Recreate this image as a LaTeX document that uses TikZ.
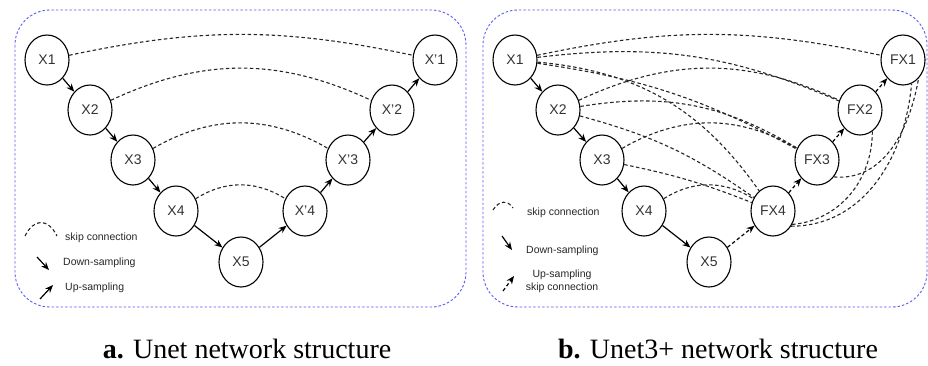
\documentclass[tikz,border=0pt]{standalone}
\usepackage{fontspec}
\setmainfont{Liberation Serif}
\setsansfont{Liberation Sans}
\usetikzlibrary{shapes.geometric,arrows.meta}

\definecolor{bordoblu}{RGB}{90,90,245}

\tikzset{
	blocco/.style={ellipse, draw, line width=1.1pt, minimum width=44pt, minimum height=50pt, inner sep=0pt, text=black!80, font=\sffamily\fontsize{14}{14}\selectfont},
	salto/.style={line width=1.1pt, black!85, dash pattern=on 3.5pt off 2.5pt},
	giu/.style={-{Stealth[length=8pt,width=6.5pt]}, line width=1.2pt},
	risalita/.style={-{Stealth[length=8pt,width=6.5pt]}, line width=1.2pt, dash pattern=on 3.5pt off 2.5pt},
	cornice/.style={draw=bordoblu, line width=0.9pt, dash pattern=on 2.5pt off 2pt, rounded corners=35pt},
	leggenda/.style={inner sep=0pt, text=black!85, font=\sffamily\fontsize{10.5}{13}\selectfont, align=center},
	didascalia/.style={inner sep=0pt, font=\fontsize{28}{30}\selectfont}
}

\begin{document}
\begin{tikzpicture}[x=1pt, y=-1pt]
	\useasboundingbox (0,0) rectangle (928,365);

	\begin{scope} % a. Unet
		\draw[cornice] (15,10) rectangle (466,307);

		\node[blocco] (a1) at (47,60) {X1};
		\node[blocco] (a2) at (90,110) {X2};
		\node[blocco] (a3) at (133,160) {X3};
		\node[blocco] (a4) at (176,211) {X4};
		\node[blocco] (a5) at (241,262) {X5};
		\node[blocco] (d4) at (305,211) {X'4};
		\node[blocco] (d3) at (348,160) {X'3};
		\node[blocco] (d2) at (392,110) {X'2};
		\node[blocco] (d1) at (435,60) {X'1};

		\draw[giu] (a1) -- (a2);
		\draw[giu] (a2) -- (a3);
		\draw[giu] (a3) -- (a4);
		\draw[giu] (a4) -- (a5);
		\draw[giu] (a5) -- (d4);
		\draw[giu] (d4) -- (d3);
		\draw[giu] (d3) -- (d2);
		\draw[giu] (d2) -- (d1);

		\draw[salto] (a1) to[bend left=12] (d1); % livello 1
		\draw[salto] (a2) to[bend left=25] (d2); % livello 2
		\draw[salto] (a3) to[bend left=30] (d3); % livello 3
		\draw[salto] (a4) to[bend left=32] (d4); % livello 4

		% legenda
		\coordinate (la0) at (25,236);
		\coordinate (la1) at (57,236);
		\coordinate (lb0) at (37,257);
		\coordinate (lb1) at (49,270);
		\coordinate (lc0) at (40,299);
		\coordinate (lc1) at (53,285);
		\draw[salto] (la0) .. controls (34,218) and (48,218) .. (la1);
		\draw[giu] (lb0) -- (lb1);
		\draw[giu] (lc0) -- (lc1);
		\node[leggenda, anchor=west] (ta) at (65,238) {skip connection};
		\node[leggenda, anchor=west] (tb) at (63,263) {Down-sampling};
		\node[leggenda, anchor=west] (tc) at (65,288) {Up-sampling};

		\node[didascalia] (capa) at (247,349) {\textbf{a.} Unet network structure};
	\end{scope}

	\begin{scope} % b. Unet3+
		\draw[cornice] (483,10) rectangle (927,307);

		\node[blocco] (b1) at (515,60) {X1};
		\node[blocco] (b2) at (558,110) {X2};
		\node[blocco] (b3) at (602,160) {X3};
		\node[blocco] (b4) at (644,211) {X4};
		\node[blocco] (b5) at (709,262) {X5};
		\node[blocco] (f4) at (773,211) {FX4};
		\node[blocco] (f3) at (817,160) {FX3};
		\node[blocco] (f2) at (860,110) {FX2};
		\node[blocco] (f1) at (903,60) {FX1};

		\draw[giu] (b1) -- (b2);
		\draw[giu] (b2) -- (b3);
		\draw[giu] (b3) -- (b4);
		\draw[giu] (b4) -- (b5);
		\draw[risalita] (b5) -- (f4);
		\draw[risalita] (f4) -- (f3);
		\draw[risalita] (f3) -- (f2);
		\draw[risalita] (f2) -- (f1);

		\draw[salto] (b1) to[bend left=12] (f1); % da X1
		\draw[salto] (b1) to[bend left=15] (f2);
		\draw[salto] (b1) to[bend left=10] (f3);
		\draw[salto] (b1) to[bend left=25] (f4);
		\draw[salto] (b2) to[bend left=25] (f2); % da X2
		\draw[salto] (b2) to[bend left=20] (f3);
		\draw[salto] (b2) to[bend left=10] (f4);
		\draw[salto] (b3) to[bend left=30] (f3); % da X3
		\draw[salto] (b3) to[bend left=5] (f4);
		\draw[salto] (b4) to[bend left=32] (f4); % da X4
		\draw[salto] (f4.-40) to[out=0, in=-95] (f1.-70); % tra decoder
		\draw[salto] (f4.-35) to[out=5, in=-90] (f2.-60);
		\draw[salto] (f3.-45) to[out=-5, in=-100] (f1.-50);

		% legenda
		\coordinate (ma0) at (493,210);
		\coordinate (ma1) at (513,208);
		\coordinate (mb0) at (502,236);
		\coordinate (mb1) at (512,250);
		\coordinate (mc0) at (503,291);
		\coordinate (mc1) at (514,276);
		\draw[salto] (ma0) .. controls (499,200) and (508,200) .. (ma1);
		\draw[giu] (mb0) -- (mb1);
		\draw[risalita] (mc0) -- (mc1);
		\node[leggenda, anchor=west] (ua) at (527,213) {skip connection};
		\node[leggenda, anchor=west] (ub) at (526,251) {Down-sampling};
		\node[leggenda] (uc) at (562,281) {Up-sampling\\skip connection};

		\node[didascalia] (capb) at (718,349) {\textbf{b.} Unet3+ network structure};
	\end{scope}
\end{tikzpicture}
\end{document}
